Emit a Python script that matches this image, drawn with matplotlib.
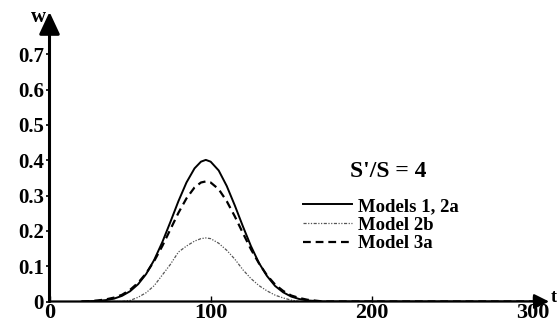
import matplotlib
matplotlib.use("Agg")
import matplotlib.pyplot as plt


t = [20, 25, 30, 35, 40, 45, 50, 55, 60, 65, 70, 75, 80, 85, 90, 94, 97, 100,
	105, 110, 115, 120, 125, 130, 135, 140, 145, 150, 155, 160, 170, 300]
w_models_1_2a = [0.0, 0.001, 0.002, 0.004, 0.008, 0.016, 0.029, 0.049, 0.078, 0.118, 0.168, 0.225, 0.284, 0.337, 0.377, 0.396, 0.401, 0.396,
	0.371, 0.327, 0.272, 0.213, 0.157, 0.109, 0.072, 0.044, 0.026, 0.014, 0.007, 0.003, 0.0, 0.0]
w_model_3a = [0.0, 0.001, 0.003, 0.006, 0.011, 0.019, 0.033, 0.053, 0.080, 0.115, 0.157, 0.204, 0.251, 0.292, 0.323, 0.337, 0.340, 0.337,
	0.318, 0.284, 0.241, 0.194, 0.148, 0.108, 0.074, 0.048, 0.030, 0.017, 0.010, 0.005, 0.0, 0.0]
w_model_2b = [0.0, 0.0, 0.0, 0.0, 0.0, 0.0, 0.003, 0.012, 0.025, 0.045, 0.075, 0.105, 0.140, 0.157, 0.171, 0.178, 0.180, 0.178,
	0.165, 0.145, 0.120, 0.090, 0.065, 0.045, 0.030, 0.018, 0.010, 0.004, 0.0, 0.0, 0.0, 0.0]

x_ticks = [0, 100, 200, 300]
y_ticks = [0, 0.1, 0.2, 0.3, 0.4, 0.5, 0.6, 0.7]
y_tick_labels = ["0", "0.1", "0.2", "0.3", "0.4", "0.5", "0.6", "0.7"]

serif = "Liberation Serif"


def main():
	fig = plt.figure(figsize=(5.6, 3.25), dpi=100)
	ax = fig.add_axes([0.0884, 0.0723, 0.892, 0.891])

	ax.plot(t, w_models_1_2a, color="black", lw=1.4, label="Models 1, 2a")
	ax.plot(t, w_model_2b, color="#555555", lw=0.9, dashes=[2.5, 1.2, 1, 1.2, 1, 1.2], label="Model 2b")
	ax.plot(t, w_model_3a, color="black", lw=1.6, dashes=[3.5, 2.2], label="Model 3a")

	ax.set_xlim(0, 310)
	ax.set_ylim(0, 0.82)
	for side in ["top", "right", "left", "bottom"]:
		ax.spines[side].set_visible(False)

	# axes with arrow heads
	ax.annotate("", xy=(1, 0), xytext=(0, 0), xycoords="axes fraction",
		arrowprops=dict(arrowstyle="-|>,head_length=0.6,head_width=0.3", lw=1.6, color="black",
			shrinkA=0, shrinkB=0, mutation_scale=15))
	ax.annotate("", xy=(0, 1), xytext=(0, 0), xycoords="axes fraction",
		arrowprops=dict(arrowstyle="-|>,head_length=0.75,head_width=0.35", lw=2.2, color="black",
			shrinkA=0, shrinkB=0, mutation_scale=18))

	ax.set_xticks(x_ticks)
	ax.set_xticklabels([str(v) for v in x_ticks], fontfamily=serif, fontweight="bold", fontsize=16)
	ax.set_yticks(y_ticks)
	ax.set_yticklabels(y_tick_labels, fontfamily=serif, fontweight="bold", fontsize=15)
	ax.tick_params(axis="x", direction="in", length=4, width=1, pad=1)
	ax.tick_params(axis="y", direction="out", length=3, width=1.2, pad=1)

	fig.text(0.055, 0.948, "w", fontfamily=serif, fontweight="bold", fontsize=15, ha="left", va="center")
	fig.text(0.983, 0.085, "t", fontfamily=serif, fontweight="bold", fontsize=13, ha="left", va="center")
	fig.text(0.625, 0.455, "S'/S = 4", fontfamily=serif, fontweight="bold", fontsize=17)

	ax.legend(loc="upper left", bbox_to_anchor=(0.525, 0.42), bbox_transform=fig.transFigure,
		frameon=False, handlelength=2.6, handletextpad=0.3, labelspacing=0.08, borderpad=0,
		prop={"family": serif, "weight": "bold", "size": 13.5})

	fig.savefig("out.png", dpi=100)


if __name__ == '__main__':
	main()
